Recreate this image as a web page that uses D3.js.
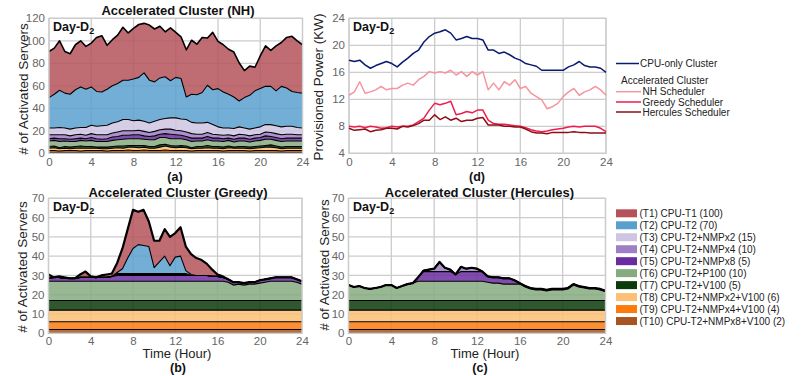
<!DOCTYPE html>
<html><head><meta charset="utf-8">
<script src="https://cdn.jsdelivr.net/npm/d3@7"></script>
<style>
body{margin:0;background:#fff;}
svg{display:block;font-family:"Liberation Sans",Arial,sans-serif;}
</style></head><body>
<svg id="chart" width="801" height="376"></svg>
<script>
// ---------- data ----------
const hours = d3.range(0, 24.001, 0.5);
const xTicks = [0,4,8,12,16,20,24];
const typeKeys = ["T1","T2","T3","T4","T5","T6","T7","T8","T9","T10"];
const typeLabels = ["(T1) CPU-T1 (100)","(T2) CPU-T2 (70)","(T3) CPU-T2+NMPx2 (15)","(T4) CPU-T2+NMPx4 (10)","(T5) CPU-T2+NMPx8 (5)","(T6) CPU-T2+P100 (10)","(T7) CPU-T2+V100 (5)","(T8) CPU-T2+NMPx2+V100 (6)","(T9) CPU-T2+NMPx4+V100 (4)","(T10) CPU-T2+NMPx8+V100 (2)"];
const typeColors = ["#b5525b","#5aa0cf","#cfc5e3","#9e7fc4","#6a2d9f","#86aa80","#0b3b0b","#fdbf73","#fd7a0d","#a65520"];

// Panel (a) NH scheduler — servers per type
const nhT1 = [41,41,44,37,36,40,41,38,39,48,50,39,41,43,47,42,45,47,44,49,47,46,40,47,40,37,42,48,45,49,42,51,42,42,40,40,34,24,26,21,29,36,32,40,39,45,49,46,43];
const nhT2 = [27,30,33,31,31,34,36,34,34,31,30,32,33,34,35,35,37,38,43,38,35,37,37,33,36,36,20,25,25,27,33,31,34,32,30,28,23,27,30,33,34,34,34,31,36,34,31,31,31];
const nhT3 = [6,6,6.5,6,6,6,6,7,7.5,7.5,8,8.5,9,9,10,10,9,9,9,8.5,9,9,9.5,10,11,10.5,11,10,10,10,9,8.5,7,6.5,6,6.5,6.5,6,6,6,6.5,6.5,7,7,7,7,7,6.5,6];
const nhT4 = [3.5,3,3.5,3.5,3,3.5,3.5,3,3.5,3.5,4,3.5,3.5,4,4,4,3.5,4,4,3.5,4,4,4,4.5,4,4,4,4,3.5,3.5,3.5,3.5,3,3,3,3,3.5,3,3,3,3,3.5,3.5,3.5,3.5,3.5,3.5,3,3];
const nhT5 = [2,2,2.5,2,2,2.5,2,2,2.5,2.5,2,2.5,3,3,3.5,3,3.5,3.5,3,3,3.5,3,3.5,4,3.5,3,3,3,2.5,2.5,3,2.5,2.5,2.5,2,2.5,2.5,2.5,2.5,2.5,2.5,3,2.5,2.5,2.5,2.5,2.5,2.5,2.5];
const nhT6 = [5,5,5.5,5,5,4.5,5,5,5.5,5,5,5,5.5,5.5,6,6,6,6,5.5,6,6,6.5,6,6,6.5,6,5.5,5.5,5,5,5,5,5,5,5,4.5,5,5,4.5,5,5,5.5,5,5,5,5,5,5,5];
const nhT7 = [1.5,1.5,1,1.5,1.5,1.5,2,1.5,1.5,1,1.5,1.5,1.5,1.5,2,1.5,1.5,2,1.5,1.5,1.5,2,1.5,1.5,1.5,1.5,1.5,1,1.5,1.5,2,1.5,1.5,1.5,1.5,1,1.5,1.5,1.5,1.5,1.5,1.5,2,1.5,1.5,1.5,1.5,1.5,1.5];
const nhT8 = [2,2.5,2,2,1.5,2,2.5,2,2,2,1.5,2,2,2.5,2,2.5,3,2.5,2.5,2,2,3,3.5,3,2.5,3,2.5,2,2,2,2.5,2,2,2,2.5,2,2,2,2,2,2.5,3,3,2.5,2,2,2,2,2];
const nhT9 = [1.5,1.5,1,1.5,1.5,1.5,1,1.5,1.5,1.5,1.5,1,1.5,1.5,1.5,2,1.5,1.5,2,1.5,1.5,1.5,2,1.5,1.5,1.5,1.5,1,1.5,1.5,1.5,1.5,1.5,1,1.5,1.5,1.5,1.5,1,1.5,1.5,1.5,1.5,1.5,1,1.5,1.5,1.5,1.5];
const nhT10 = [1,1,1,1,1,1,1,1,1,1,1,1,1,1,1,1,1,1,1,1,1,1,1,1,1,1,1,1,1,1,1,1,1,1,1,1,1,1,1,1,1,1,1,1,1,1,1,1,1];

// Panel (b) Greedy scheduler
const grT1 = [2,0,0.5,0.5,0,0,1.5,3,0.5,0,1,1.5,1.5,5,10.5,15,20,17,18.5,13,14,11,14,15,12.5,15,12.5,10.5,9,8,6,3.5,1,0.5,0,0,0,0,0,0,0,0,0,0,0,0,0,0,0];
const grT2 = [0,0,0,0,0,0,0,0,0,0,0,0,0,0.5,2.5,8,13,15,14.5,14,3,6,9,4,8.5,9,1.5,0.5,0,0,0,0,0,0,0,0,0,0,0,0,0,0,0,0,0,0,0,0,0];
const grT3 = [0,0,0,0,0,0,0,0,0,0,0,0,0,0.5,0.5,0.5,0.5,0.5,0.5,0.5,0.5,0.5,0.5,0.5,0.5,0.5,0.5,0,0,0,0,0,0,0,0,0,0,0,0,0,0,0,0,0,0,0,0,0,0];
const grT4 = [0,0,0,0,0,0,0,0,0,0,0,0,0,0.5,0.5,0.5,0.5,0.5,0.5,0.5,0.5,0.5,0.5,0.5,0.5,0.5,0.5,0,0,0,0,0,0,0,0,0,0,0,0,0,0,0,0,0,0,0,0,0,0];
const grT5 = [1.5,2,2,1.5,1.5,1.5,2,2,2,2,2,2,2.5,3,3,3,3,3,3,3,3,3,3,3,3,3,3,3,3,3,3,2.5,2.5,2,1.5,1.5,1,1,1,1,1.5,1.5,1.5,2,2,2,2,1.5,1.5];
const grT6 = [10,10,10,10,10,10,10,10,10,10,10,10,10,10,10,10,10,10,10,10,10,10,10,10,10,10,10,10,10,10,10,10,10,10,9.5,8,8.5,8,8.5,8.5,9,9.5,10,10,10,10,10,9.5,8.5];
const grT7 = [5,5,5,5,5,5,5,5,5,5,5,5,5,5,5,5,5,5,5,5,5,5,5,5,5,5,5,5,5,5,5,5,5,5,5,5,5,5,5,5,5,5,5,5,5,5,5,5,5];
const grT8 = [6,6,6,6,6,6,6,6,6,6,6,6,6,6,6,6,6,6,6,6,6,6,6,6,6,6,6,6,6,6,6,6,6,6,6,6,6,6,6,6,6,6,6,6,6,6,6,6,6];
const grT9 = [4,4,4,4,4,4,4,4,4,4,4,4,4,4,4,4,4,4,4,4,4,4,4,4,4,4,4,4,4,4,4,4,4,4,4,4,4,4,4,4,4,4,4,4,4,4,4,4,4];
const grT10 = [2,2,2,2,2,2,2,2,2,2,2,2,2,2,2,2,2,2,2,2,2,2,2,2,2,2,2,2,2,2,2,2,2,2,2,2,2,2,2,2,2,2,2,2,2,2,2,2,2];

// Panel (c) Hercules scheduler
const heT4 = [0,0,0,0,0,0,0,0,0,0,0,0,0,0,0.5,1,1.5,5,2,1,0,2.5,1.5,2,1.5,0,0,0,0,0,0,0,0,0,0,0,0,0,0,0,0,0,0,0,0,0,0,0,0];
const heT5 = [0,0,0,0,0,0,0,0,0,0,0,0,0,2,5,5,5,5,5,5,3.5,5,5,5,5,5,3,3,3,3,3,2,0.5,0.5,0.5,0.5,0.5,0.5,0.5,0.5,0.5,0.5,0.5,0.5,0.5,0.5,0.5,0.5,0.5];
const heT6 = [8,7,7.5,6.5,6,6.5,7,8,8,6.5,7.5,8.5,9,10,10,10,10,10,10,10,10,10,10,10,10,10,9.5,9,9,8.5,8.5,8.5,8.5,7,6,5.5,5.5,5,5.5,5.5,5.5,6,8,7,6.5,6,6,5.5,4.5];
const heT7 = grT7, heT8 = grT8, heT9 = grT9, heT10 = grT10;
const zeros = hours.map(() => 0);

// Panel (d) provisioned power (KW)
const cpuOnly = [17.8,17.6,17.8,17.1,16.6,17.0,17.3,17.6,17.3,16.8,17.5,18.1,18.8,19.3,20.5,21.3,21.8,22.0,22.3,21.8,20.8,21.0,21.3,21.0,21.0,20.8,19.3,19.3,18.8,19.0,18.6,18.1,17.8,17.3,17.1,16.9,16.3,16.3,16.3,16.3,16.3,16.8,17.1,17.6,17.0,16.8,16.8,16.6,16.0];
const nhPower = [12.6,13.1,14.6,12.9,13.1,13.4,13.9,13.4,13.6,13.6,14.1,14.4,14.1,14.9,15.4,16.1,15.9,16.1,15.9,16.3,15.6,16.1,15.4,16.1,15.6,16.1,13.4,14.4,13.4,14.6,14.1,14.9,13.6,13.9,12.9,12.4,11.9,10.6,10.9,11.4,12.4,13.1,13.6,12.6,13.1,13.4,13.9,13.4,12.6];
const greedyPower = [8.0,7.9,8.0,7.8,8.0,7.9,7.7,7.8,8.0,7.9,8.0,8.0,8.2,8.7,9.2,10.4,11.4,11.2,11.4,11.7,9.7,9.9,10.2,10.0,10.4,10.4,8.9,8.4,8.3,8.3,8.2,8.1,8.0,7.8,7.5,7.3,7.2,7.3,7.5,7.6,7.7,7.9,8.0,7.9,8.0,8.0,8.0,7.7,7.2];
const herculesPower = [7.7,7.4,7.5,7.6,7.2,7.4,7.5,7.7,7.7,7.6,8.0,7.9,8.1,8.4,8.9,8.9,9.7,9.0,9.4,8.9,9.2,8.7,8.9,8.9,9.2,9.3,8.2,8.2,8.2,8.0,8.0,7.9,7.9,7.6,7.2,7.0,7.0,6.9,7.1,7.1,7.1,7.1,7.2,7.1,7.1,7.0,7.0,7.0,7.0];
const powerLabels = ["CPU-only Cluster","NH Scheduler","Greedy Scheduler","Hercules Scheduler"];
const powerColors = ["#0c1a6e","#f6949f","#ee1d4c","#8e0c16"];

// ---------- drawing ----------
const svg = d3.select("#chart");
const GRID = "#cccccc";

function rows(arrs){
  return hours.map((h,i)=>{const r={h};typeKeys.forEach((k,j)=>r[k]=arrs[j][i]);return r;});
}

function frame(g, x, y, yTicks){
  g.append("g").selectAll("line").data(yTicks).join("line")
    .attr("x1",x.range()[0]).attr("x2",x.range()[1])
    .attr("y1",d=>y(d)).attr("y2",d=>y(d))
    .attr("stroke",GRID).attr("stroke-width",1.3);
  g.append("g").selectAll("line").data(xTicks).join("line")
    .attr("x1",d=>x(d)).attr("x2",d=>x(d))
    .attr("y1",y.range()[0]).attr("y2",y.range()[1])
    .attr("stroke",GRID).attr("stroke-width",1.3);
}
function axes(g, x, y, yTicks, xPad){
  const ay = g.append("g").attr("transform",`translate(${x.range()[0]},0)`)
    .call(d3.axisLeft(y).tickValues(yTicks).tickSize(0).tickPadding(4));
  const ax = g.append("g").attr("transform",`translate(0,${y.range()[0]})`)
    .call(d3.axisBottom(x).tickValues(xTicks).tickSize(0).tickPadding(xPad));
  [ay,ax].forEach(a=>{a.select(".domain").remove();
    a.selectAll("text").attr("fill","#666").style("font-size","11.5px").style("font-family","Liberation Sans, Arial, sans-serif");});
}
function dayLabel(g, xx, yy){
  const t = g.append("text").attr("x",xx).attr("y",yy).attr("font-weight","bold").attr("font-size",12.5).attr("fill","#111");
  t.append("tspan").text("Day-D");
  t.append("tspan").attr("font-size",9).attr("dy",3).text("2");
}
function stackPanel(arrs, L, R, T, B, yMax, yTicks, topW, xPad){
  const x = d3.scaleLinear().domain([0,24]).range([L,R]);
  const y = d3.scaleLinear().domain([0,yMax]).range([B,T]);
  const g = svg.append("g");
  frame(g,x,y,yTicks);
  const keys = typeKeys.slice().reverse();
  const series = d3.stack().keys(keys)(rows(arrs));
  const area = d3.area().x(d=>x(d.data.h)).y0(d=>y(d[0])).y1(d=>y(d[1]));
  const line = d3.line().x(d=>x(d.data.h)).y(d=>y(d[1]));
  g.append("g").selectAll("path").data(series).join("path")
    .attr("d",area).attr("fill",d=>typeColors[typeKeys.indexOf(d.key)]).attr("fill-opacity",0.85);
  g.append("g").selectAll("path").data(series).join("path")
    .attr("d",line).attr("fill","none").attr("stroke","#000")
    .attr("stroke-width",(d,i)=> i===series.length-1 ? topW : 1.1).attr("stroke-linejoin","round");
  g.append("rect").attr("x",L).attr("y",T).attr("width",R-L).attr("height",B-T)
    .attr("fill","none").attr("stroke",GRID).attr("stroke-width",1.3);
  axes(g,x,y,yTicks,xPad);
  return g;
}

function txt(xx,yy,s,opt={}){
  const t = svg.append("text").attr("x",xx).attr("y",yy).text(s)
    .attr("font-size",opt.size||13).attr("fill",opt.fill||"#111")
    .attr("text-anchor",opt.anchor||"middle");
  if(opt.bold) t.attr("font-weight","bold");
  if(opt.rot) t.attr("transform",`rotate(-90,${xx},${yy})`);
  return t;
}

// (a)
stackPanel([nhT1,nhT2,nhT3,nhT4,nhT5,nhT6,nhT7,nhT8,nhT9,nhT10], 49, 302.5, 18.3, 153.3, 120, [0,20,40,60,80,100,120], 1.6, 5);
dayLabel(svg, 53, 31);
txt(178,15,"Accelerated Cluster (NH)",{bold:true});
txt(175,180.5,"(a)",{bold:true,size:12.5});
txt(28,89,"# of Activated Servers",{rot:true,size:13.5,fill:"#222"});

// (b)
stackPanel([grT1,grT2,grT3,grT4,grT5,grT6,grT7,grT8,grT9,grT10], 48.5, 302, 198.3, 333.3, 70, [0,10,20,30,40,50,60,70], 2.2, 4);
dayLabel(svg, 53, 211);
txt(178,196.5,"Accelerated Cluster (Greedy)",{bold:true});
txt(177,358,"Time (Hour)",{size:13,fill:"#222"});
txt(178,371.5,"(b)",{bold:true,size:12.5});
txt(27,267,"# of Activated Servers",{rot:true,size:13.5,fill:"#222"});

// (c)
stackPanel([zeros,zeros,zeros,heT4,heT5,heT6,heT7,heT8,heT9,heT10], 348.5, 605.5, 198.3, 333.3, 70, [0,10,20,30,40,50,60,70], 2.2, 4);
dayLabel(svg, 353, 211);
txt(479.5,196.5,"Accelerated Cluster (Hercules)",{bold:true});
txt(485,358,"Time (Hour)",{size:13,fill:"#222"});
txt(480,371.5,"(c)",{bold:true,size:12.5});
txt(329,265,"# of Activated Servers",{rot:true,size:13.5,fill:"#222"});

// (d)
{
  const L=349,R=606,T=18.3,B=153.3;
  const x = d3.scaleLinear().domain([0,24]).range([L,R]);
  const y = d3.scaleLinear().domain([4,24]).range([B,T]);
  const yT=[4,8,12,16,20,24];
  const g = svg.append("g");
  frame(g,x,y,yT);
  g.append("rect").attr("x",L).attr("y",T).attr("width",R-L).attr("height",B-T)
    .attr("fill","none").attr("stroke",GRID).attr("stroke-width",1.3);
  const ln = d3.line().x((d,i)=>x(hours[i])).y(d=>y(d));
  [cpuOnly,nhPower,greedyPower,herculesPower].forEach((s,i)=>{
    g.append("path").attr("d",ln(s)).attr("fill","none").attr("stroke",powerColors[i]).attr("stroke-width",1.5).attr("stroke-linejoin","round");
  });
  axes(g,x,y,yT,5);
  dayLabel(svg, 353, 31);
  txt(477,180.5,"(d)",{bold:true,size:12.5});
  txt(323,87,"Provisioned Power (KW)",{rot:true,size:13.5,fill:"#222"});
}

// legend (d)
{
  const g = svg.append("g").attr("font-size",10).attr("fill","#222");
  const items = [{y:63.5,x2:639,tx:640,i:0},{y:91.7,x2:641,tx:642.5,i:1},{y:102,x2:641,tx:642.5,i:2},{y:112,x2:641,tx:642.5,i:3}];
  items.forEach(it=>{
    g.append("line").attr("x1",616).attr("x2",it.x2).attr("y1",it.y).attr("y2",it.y)
      .attr("stroke",powerColors[it.i]).attr("stroke-width",1.5);
    g.append("text").attr("x",it.tx).attr("y",it.y).attr("dy","0.35em").text(powerLabels[it.i]);
  });
  g.append("text").attr("x",621).attr("y",80).attr("dy","0.35em").text("Accelerated Cluster");
}
// legend types
{
  const g = svg.append("g").attr("font-size",10).attr("fill","#222");
  typeLabels.forEach((s,i)=>{
    const yy = 209.3 + i*11.97;
    g.append("rect").attr("x",616).attr("y",yy).attr("width",21).attr("height",8).attr("fill",typeColors[i]);
    g.append("text").attr("x",639.5).attr("y",yy+4).attr("dy","0.35em").text(s);
  });
}
</script>
</body></html>
